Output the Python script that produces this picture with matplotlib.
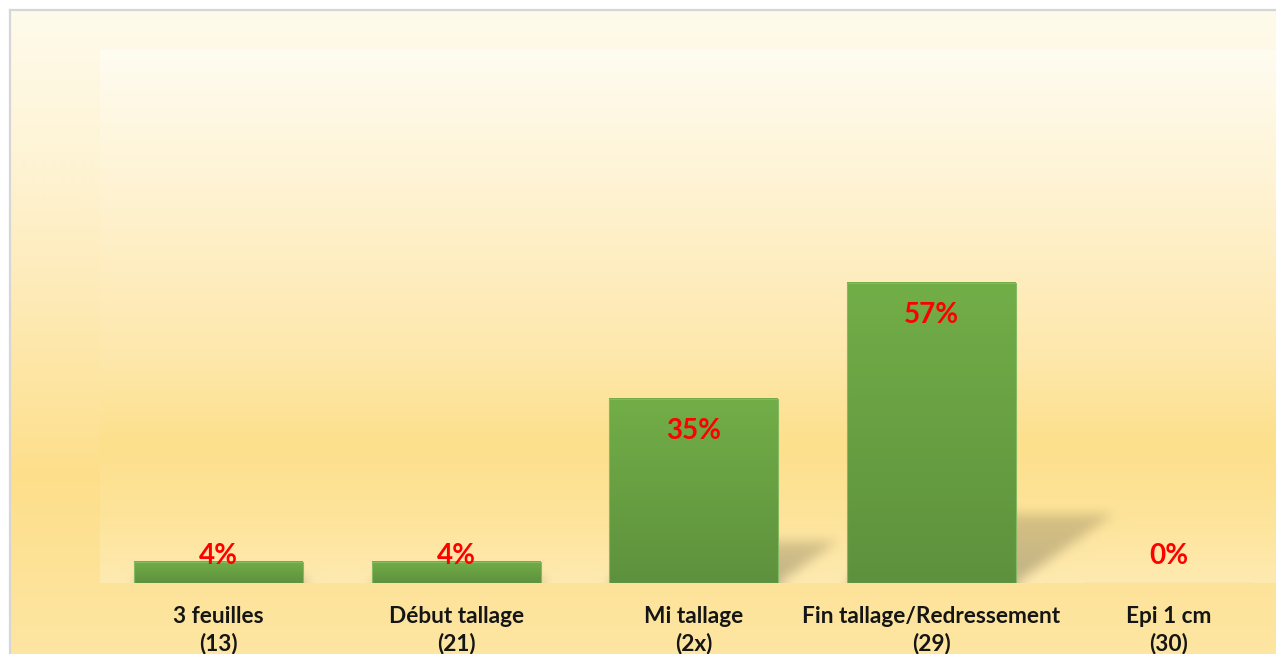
import numpy as np
import matplotlib
matplotlib.use("Agg")
import matplotlib.pyplot as plt
from matplotlib.colors import to_rgb

# ---- data ----
categories = ["3 feuilles\n(13)", "Début tallage\n(21)", "Mi tallage\n(2x)",
              "Fin tallage/Redressement\n(29)", "Epi 1 cm\n(30)"]
values = [4, 4, 35, 57, 0]
value_labels = ["4%", "4%", "35%", "57%", "0%"]

W_PX, H_PX = 1276, 654
fig = plt.figure(figsize=(W_PX / 100, H_PX / 100), dpi=100)
fig.patch.set_facecolor("white")

def vgrad(stops, n):
    """stops: list of (frac, color). returns n x 3 array."""
    fr = np.array([s[0] for s in stops])
    cols = np.array([to_rgb(s[1]) for s in stops])
    t = np.linspace(0, 1, n)
    return np.stack([np.interp(t, fr, cols[:, k]) for k in range(3)], axis=1)

# ---- outer chart-area background ----
bg = fig.add_axes([0, 0, 1, 1])
bg.set_xlim(0, W_PX)
bg.set_ylim(H_PX, 0)
bg.axis("off")
outer_rows = vgrad([(0.0, "#FFFBEC"), (0.22, "#FEF4D6"), (0.45, "#FEEAB6"),
                    (0.72, "#FDDF8B"), (0.86, "#FDE296"), (1.0, "#FEE6A3")], 644)
outer_img = np.repeat(outer_rows[:, None, :], 4, axis=1)
bg.imshow(outer_img, extent=(10, W_PX, H_PX, 10), aspect="auto",
          interpolation="bilinear", zorder=0)
bg.plot([9.5, 9.5], [H_PX, 9.5], color="#D6D6D6", lw=1.6, zorder=1)
bg.plot([9.5, W_PX], [9.5, 9.5], color="#D6D6D6", lw=1.6, zorder=1)

# ---- plot area ----
left, right, top, base = 100, W_PX, 50, 583
cat_px = 237.5
px_per_unit = 300 / 57.0
ax = fig.add_axes([left / W_PX, (H_PX - base) / H_PX,
                   (right - left) / W_PX, (base - top) / H_PX])
xmin = -0.5
xmax = xmin + (right - left) / cat_px
ymax = (base - top) / px_per_unit
ax.set_xlim(xmin, xmax)
ax.set_ylim(0, ymax)

Hh, Ww = base - top, right - left
inner_rows = vgrad([(0.0, "#FFFCF1"), (0.28, "#FEF2D0"), (0.56, "#FEE8AE"),
                    (0.74, "#FDE08C"), (0.88, "#FEE49B"), (1.0, "#FEEAB0")], Hh)
img = np.repeat(inner_rows[:, None, :], Ww, axis=1)

# shadow mask built from the data
bar_w = 0.71
xs = xmin + (np.arange(Ww) + 0.5) / Ww * (xmax - xmin)
ys = ymax - (np.arange(Hh) + 0.5) / Hh * ymax
XX, YY = np.meshgrid(xs, ys)
k = 0.23
shear = 0.33 * px_per_unit / cat_px
mask = np.zeros((Hh, Ww))
for i, v in enumerate(values):
    if v <= 0:
        continue
    y0 = YY / k
    xb = XX - shear * y0
    m = (YY >= 0) & (YY <= k * v) & (xb >= i - bar_w / 2) & (xb <= i + bar_w / 2)
    fade = np.clip(1.0 - 0.35 * (YY / (k * v)), 0, 1)
    mask = np.maximum(mask, m * fade)

def box_blur(a, r, axis):
    pad = [(0, 0), (0, 0)]
    pad[axis] = (r + 1, r)
    p = np.pad(a, pad, mode="edge")
    c = np.cumsum(p, axis=axis)
    if axis == 0:
        return (c[2 * r + 1:, :] - c[:-2 * r - 1, :]) / (2 * r + 1)
    return (c[:, 2 * r + 1:] - c[:, :-2 * r - 1]) / (2 * r + 1)

for _ in range(3):
    mask = box_blur(mask, 5, 0)
    mask = box_blur(mask, 5, 1)
img = img * (1 - 0.24 * mask[..., None])
ax.imshow(img, extent=(xmin, xmax, 0, ymax), aspect="auto",
          interpolation="bilinear", zorder=0)

# ---- bars ----
x = np.arange(len(values))
bars = ax.bar(x, values, width=bar_w, color="none", edgecolor="#86BA62",
              linewidth=0.8, zorder=3)
bar_grad = vgrad([(0.0, "#72AE48"), (1.0, "#5E913D")], 256)
bar_grad = bar_grad[:, None, :]
for b, v in zip(bars, values):
    if v <= 0:
        continue
    bx, bw = b.get_x(), b.get_width()
    ax.imshow(bar_grad, extent=(bx, bx + bw, 0, v), aspect="auto",
              interpolation="bilinear", zorder=2)

# ---- value labels ----
off_top = 32.5 / px_per_unit
off_min = 27.5 / px_per_unit
for xi, v, lab in zip(x, values, value_labels):
    ax.text(xi, max(v - off_top, off_min), lab, ha="center", va="center",
            color="#FF0000", fontsize=20, fontweight="bold",
            family="Lato", zorder=4)

ax.set_xticks(x)
ax.set_xticklabels(categories, fontsize=16.3, fontweight="bold",
                   family="Lato", color="#151515", linespacing=1.3)
ax.tick_params(axis="x", length=0, pad=16.5)
ax.set_yticks([])
for s in ax.spines.values():
    s.set_visible(False)
ax.set_xlim(xmin, xmax)
ax.set_ylim(0, ymax)

fig.savefig("out.png", dpi=100, facecolor=fig.get_facecolor())
